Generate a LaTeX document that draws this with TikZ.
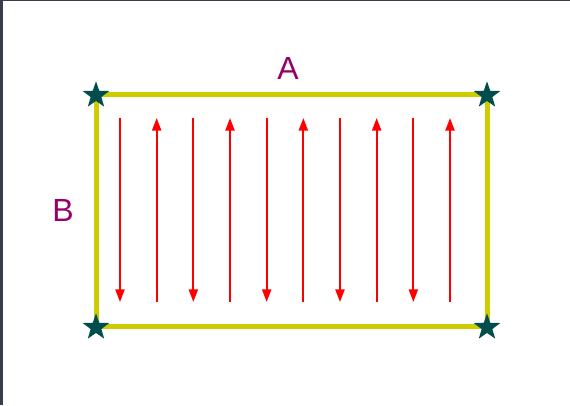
\documentclass[tikz,border=0pt]{standalone}
\usepackage{fontspec}
\setmainfont{Liberation Sans}
\usetikzlibrary{arrows.meta,shapes.geometric}
\definecolor{campoAmarillo}{HTML}{CCCC00}
\definecolor{campoVerde}{HTML}{004D4D}
\definecolor{campoMorado}{HTML}{990066}
\definecolor{campoRojo}{HTML}{FF0000}
\definecolor{campoBorde}{HTML}{373D4A}
\tikzset{
  marco/.style={draw=campoAmarillo, line width=3.75pt, line join=miter},
  estrella/.style={star, star points=5, star point ratio=2.5, fill=campoVerde,
    minimum size=21pt, inner sep=0pt},
  etiqueta/.style={text=campoMorado, font=\fontsize{24}{29}\selectfont, inner sep=0pt},
  flechaCampo/.style={-{Triangle[length=9.5pt,width=6.8pt]}, line width=1.5pt, campoRojo},
}
\begin{document}
\begin{tikzpicture}[x=0.75pt,y=-0.75pt]
    \useasboundingbox (0,0) rectangle (570,405);
    \fill[campoBorde] (0,0) rectangle (3,405);
    \fill[campoBorde] (0,0) rectangle (570,1.3);
    % esquinas del campo
    \coordinate (nw) at (96,94);
    \coordinate (ne) at (487,94);
    \coordinate (se) at (487,326);
    \coordinate (sw) at (96,326);
    \draw[marco] (nw) -- (ne) -- (se) -- (sw) -- cycle;
    \foreach \c in {nw,ne,se,sw}{\node[estrella] (s\c) at ([yshift=-1]\c) {};}
    \node[etiqueta] (ladoA) at (288,68) {A};
    \node[etiqueta] (ladoB) at (63,210) {B};
    % pasadas
    \foreach \i in {0,...,9}{
      \coordinate (arr\i) at (120+36.667*\i,118);
      \coordinate (aba\i) at (120+36.667*\i,302);
      \ifodd\i
        \draw[flechaCampo] (aba\i) -- (arr\i);
      \else
        \draw[flechaCampo] (arr\i) -- (aba\i);
      \fi
    }
\end{tikzpicture}
\end{document}
